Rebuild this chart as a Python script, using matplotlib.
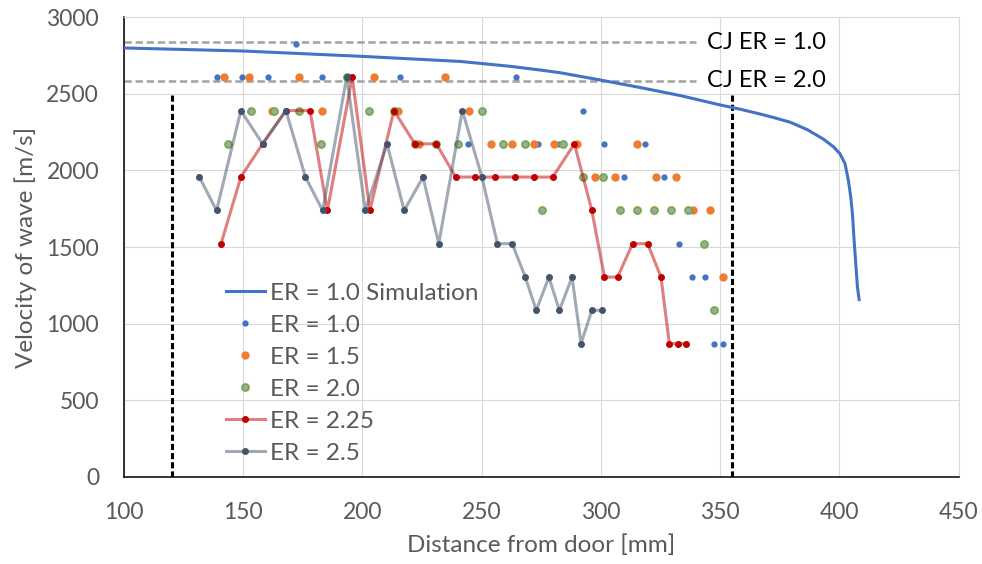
import matplotlib
matplotlib.use("Agg")
import matplotlib.pyplot as plt

plt.rcParams['font.family'] = ['Lato', 'DejaVu Sans']

# simulated wave velocity, ER = 1.0
sim_x = [100, 150, 200, 241, 262, 275, 283, 300, 316, 333, 350, 358.4, 365.4, 372.4, 379.4, 386.4,
         393.3, 397.5, 400.3, 402.4, 403.8, 404.8, 405.5, 406.2, 406.9, 407.6, 408.3]
sim_v = [2800, 2780, 2745, 2712, 2680, 2655, 2638, 2590, 2543, 2490, 2428, 2400, 2374, 2346, 2315, 2268,
         2205, 2155, 2109, 2044, 1935, 1826, 1718, 1544, 1392, 1239, 1157]

# measured points
er10_x = [139.0, 149.5, 160.3, 172.2, 183.0, 215.7, 234.6, 264.2, 292.4, 244.4, 273.6, 282.4,
          301.5, 318.7, 309.5, 326.6, 332.8, 338.4, 343.7, 347.5, 351.1]
er10_v = [2609, 2609, 2609, 2826, 2609, 2609, 2609, 2609, 2391, 2174, 2174, 2174,
          2174, 2174, 1957, 1957, 1522, 1304, 1304, 870, 870]

er15_x = [141.8, 152.5, 173.2, 193.4, 204.8, 234.6, 162.0, 183.2, 215.0, 244.6, 223.8, 253.8,
          262.7, 271.8, 280.5, 289.9, 315.0, 297.7, 306.0, 323.2, 331.5, 338.8, 345.9, 351.4]
er15_v = [2609, 2609, 2609, 2609, 2609, 2609, 2391, 2391, 2391, 2391, 2174, 2174,
          2174, 2174, 2174, 2174, 2174, 1957, 1957, 1957, 1957, 1739, 1739, 1304]

er20_x = [193.4, 153.3, 162.7, 173.4, 202.9, 213.2, 250.1, 143.4, 182.5, 222.0, 231.0, 240.1,
          259.1, 268.3, 284.3, 292.4, 300.8, 275.5, 307.9, 315.1, 322.4, 329.5, 336.7, 343.2, 347.6]
er20_v = [2609, 2391, 2391, 2391, 2391, 2391, 2391, 2174, 2174, 2174, 2174, 2174,
          2174, 2174, 2174, 1957, 1957, 1739, 1739, 1739, 1739, 1739, 1739, 1522, 1087]

er225_x = [140.7, 149.0, 158.1, 167.9, 178.0, 185.3, 195.7, 203.1, 213.2, 222.0, 231.0, 239.1,
           247.4, 255.4, 263.8, 271.9, 279.8, 288.9, 296.2, 301.5, 307.0, 313.3, 319.6, 325.2,
           328.7, 332.3, 335.9]
er225_v = [1522, 1957, 2174, 2391, 2391, 1739, 2609, 1739, 2391, 2174, 2174, 1957,
           1957, 1957, 1957, 1957, 1957, 2174, 1739, 1304, 1304, 1522, 1522, 1304,
           870, 870, 870]

er25_x = [131.6, 138.8, 149.0, 158.1, 167.9, 176.1, 183.3, 193.4, 201.2, 210.3, 217.5, 225.4,
          232.0, 241.9, 250.1, 256.6, 262.8, 268.3, 272.9, 278.2, 282.6, 287.9, 291.7, 296.2, 300.5]
er25_v = [1957, 1739, 2391, 2174, 2391, 1957, 1739, 2609, 1739, 2174, 1739, 1957,
          1522, 2391, 1957, 1522, 1522, 1304, 1087, 1304, 1087, 1304, 870, 1087, 1087]

# Chapman-Jouguet velocities and measurement window
cj_labels = ["CJ ER = 1.0", "CJ ER = 2.0"]
cj_v = [2837, 2587]
cj_x = [100, 340]
window_x = [120, 355]
window_v = [0, 2500]

fs = 16.5
fs_lab = 17.5
txt = '#595959'

fig = plt.figure(figsize=(9.82, 5.64), dpi=100)
ax = fig.add_axes([0.1263, 0.1546, 0.8498, 0.8147])

for v, lab in zip(cj_v, cj_labels):
    ax.plot(cj_x, [v, v], color='#a6a6a6', lw=1.9, linestyle=(0, (2.8, 1.4)), zorder=2)
    ax.text(344.5, v, lab, fontsize=17, color='black', va='center', ha='left')

for x in window_x:
    ax.plot([x, x], window_v, color='black', lw=2.2, linestyle=(0, (2, 1)), zorder=2)

ax.plot(sim_x, sim_v, color='#4472C4', lw=2.2, label='ER = 1.0 Simulation', zorder=3)
ax.plot(er10_x, er10_v, linestyle='none', marker='o', ms=3.5, color='#4472C4',
        label='ER = 1.0', zorder=4)
ax.plot(er15_x, er15_v, linestyle='none', marker='o', ms=5, color='#ED7D31',
        label='ER = 1.5', zorder=4)
ax.plot(er20_x, er20_v, linestyle='none', marker='o', ms=5, mfc='#A5A5A5', mec='#70AD47',
        mew=1.3, label='ER = 2.0', zorder=4)
ax.plot(er225_x, er225_v, color=(0.753, 0, 0, 0.5), lw=2.2, marker='o', ms=4,
        mfc='#C00000', mec='#C00000', label='ER = 2.25', zorder=5)
ax.plot(er25_x, er25_v, color=(0.267, 0.329, 0.416, 0.5), lw=2.2, marker='o', ms=4,
        mfc='#44546A', mec='#44546A', label='ER = 2.5', zorder=5)

ax.set_xlim(100, 450)
ax.set_ylim(0, 3000)
ax.set_xticks(range(100, 451, 50))
ax.set_yticks(range(0, 3001, 500))
ax.grid(True, color='#d9d9d9', lw=0.8, zorder=0)
ax.set_axisbelow(True)
ax.tick_params(length=0, labelsize=fs, labelcolor=txt)
ax.tick_params(axis='x', pad=18)
ax.tick_params(axis='y', pad=18)

for s in ['left', 'bottom']:
    ax.spines[s].set_color('black')
    ax.spines[s].set_linewidth(1.1)
for s in ['top', 'right']:
    ax.spines[s].set_color('#d9d9d9')
    ax.spines[s].set_linewidth(0.8)

ax.set_xlabel('Distance from door [mm]', fontsize=fs_lab, color=txt, labelpad=8)
ax.set_ylabel('Velocity of wave [m/s]', fontsize=fs_lab, color=txt, labelpad=7)

leg = ax.legend(loc='upper left', bbox_to_anchor=(0.1222, 0.422), frameon=False,
                fontsize=fs_lab, borderpad=0, handlelength=1.6, handletextpad=0.2,
                labelspacing=0.45, numpoints=1, borderaxespad=0)
for t in leg.get_texts():
    t.set_color(txt)

fig.savefig('out.png', dpi=100)
